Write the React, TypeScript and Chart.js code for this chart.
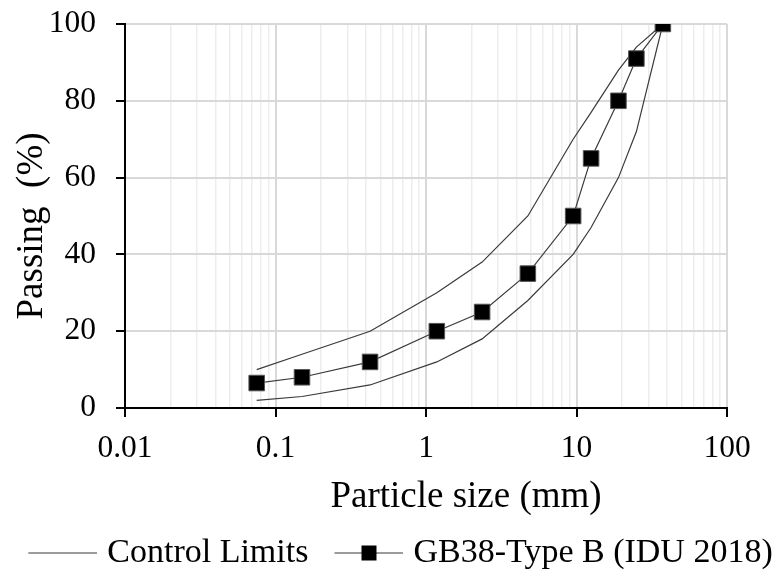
import React, { useEffect, useRef } from 'react';
import { Chart, registerables } from 'chart.js';

Chart.register(...registerables);

// ---- data ----
const SIEVE_SIZES_MM = [0.075, 0.15, 0.425, 1.18, 2.36, 4.75, 9.5, 12.5, 19, 25, 37.5];
const UPPER_LIMIT = [10, 14, 20, 30, 38, 50, 70, 77, 88, 94, 100];
const LOWER_LIMIT = [2, 3, 6, 12, 18, 28, 40, 47, 60, 72, 100];
const GB38_TYPE_B = [6.5, 8, 12, 20, 25, 35, 50, 65, 80, 91, 100];

const X_DECADES = [0.01, 0.1, 1, 10, 100];
const X_TICK_LABELS = ['0.01', '0.1', '1', '10', '100'];
const X_MINOR_STEPS = [1, 2, 3, 4, 5, 6, 7, 8, 9];
const Y_TICKS = [0, 20, 40, 60, 80, 100];

const LEGEND_LABELS = ['Control Limits', 'GB38-Type B (IDU 2018)'];
const X_TITLE = 'Particle size (mm)';
const Y_TITLE = 'Passing  (%)';

const FONT = "'Liberation Serif', 'Times New Roman', Times, serif";
const LINE_COLOR = '#3a3a3a';

export default function App() {
  const ref = useRef<HTMLCanvasElement>(null);

  useEffect(() => {
    const canvas = ref.current;
    if (!canvas) return;

    const toXY = (ys: number[]) => SIEVE_SIZES_MM.map((x, i) => ({ x, y: ys[i] }));

    const gridValues: number[] = [];
    for (let d = 0; d < X_DECADES.length - 1; d++) {
      for (const k of X_MINOR_STEPS) gridValues.push(Number((X_DECADES[d] * k).toPrecision(6)));
    }
    gridValues.push(X_DECADES[X_DECADES.length - 1]);

    const decadeIndex = (v: number) => X_DECADES.findIndex((d) => Math.abs(d - v) < d * 1e-6);
    const isDecade = (v: any) => typeof v === 'number' && decadeIndex(v) >= 0;

    const BOX = 88;
    const makeLegendImage = (withMarker: boolean) => {
      const W = BOX + 14;
      const H = 20;
      const L = 69;
      const c = document.createElement('canvas');
      c.width = W;
      c.height = H;
      const g = c.getContext('2d')!;
      g.strokeStyle = LINE_COLOR;
      g.lineWidth = 1.2;
      g.beginPath();
      g.moveTo(W - L, H / 2);
      g.lineTo(W, H / 2);
      g.stroke();
      if (withMarker) {
        const s = 15;
        g.fillStyle = '#000';
        g.fillRect(Math.round(W - L / 2 - s / 2), H / 2 - s / 2, s, s);
      }
      return c;
    };
    const legendImages = [makeLegendImage(false), makeLegendImage(true)];

    const axisTitles = {
      id: 'axisTitles',
      afterDraw(chart: any) {
        const { ctx, chartArea } = chart;
        ctx.save();
        ctx.fillStyle = '#000';
        ctx.font = `37px ${FONT}`;
        ctx.textAlign = 'center';
        ctx.textBaseline = 'alphabetic';
        ctx.fillText(X_TITLE, chartArea.left + 341, chartArea.bottom + 99);
        ctx.translate(chartArea.left - 83, chartArea.top + 202);
        ctx.rotate(-Math.PI / 2);
        ctx.fillText(Y_TITLE, 0, 0);
        ctx.restore();
      },
    };

    const chart = new Chart(canvas, {
      type: 'line',
      data: {
        datasets: [
          {
            label: LEGEND_LABELS[1],
            data: toXY(GB38_TYPE_B),
            borderColor: LINE_COLOR,
            borderWidth: 1.2,
            pointStyle: 'rect',
            pointRadius: 11,
            pointHoverRadius: 11,
            pointBackgroundColor: '#000',
            pointBorderColor: '#555',
            pointBorderWidth: 1,
            tension: 0,
            order: 0,
          },
          {
            label: LEGEND_LABELS[0],
            data: toXY(UPPER_LIMIT),
            borderColor: LINE_COLOR,
            borderWidth: 1.2,
            pointRadius: 0,
            tension: 0,
            order: 1,
          },
          {
            label: LEGEND_LABELS[0],
            data: toXY(LOWER_LIMIT),
            borderColor: LINE_COLOR,
            borderWidth: 1.2,
            pointRadius: 0,
            tension: 0,
            order: 1,
          },
        ],
      },
      options: {
        animation: false,
        responsive: false,
        devicePixelRatio: 1,
        layout: { padding: { top: 24, right: 0, bottom: 0, left: 0 } },
        plugins: {
          tooltip: { enabled: false },
          legend: {
            position: 'bottom',
            align: 'center',
            maxHeight: 36,
            labels: {
              usePointStyle: true,
              pointStyleWidth: BOX,
              padding: 0,
              color: '#000',
              font: { family: FONT, size: 34 },
              generateLabels: () =>
                LEGEND_LABELS.map((text, i) => ({
                  text,
                  pointStyle: legendImages[i],
                  fillStyle: '#000',
                  strokeStyle: '#000',
                  lineWidth: 0,
                  hidden: false,
                  datasetIndex: i === 0 ? 1 : 0,
                  fontColor: '#000',
                })),
            },
          },
        },
        scales: {
          x: {
            type: 'logarithmic',
            min: X_DECADES[0],
            max: X_DECADES[X_DECADES.length - 1],
            afterBuildTicks: (s: any) => {
              s.ticks = gridValues.map((value) => ({ value }));
            },
            afterFit: (s: any) => {
              s.height = 128;
              s.paddingRight = 48;
            },
            ticks: {
              autoSkip: false,
              maxRotation: 0,
              minRotation: 0,
              padding: 13,
              color: '#000',
              font: { family: FONT, size: 31.5 },
              callback: (v: any) => {
                const i = decadeIndex(Number(v));
                return i >= 0 ? X_TICK_LABELS[i] : '';
              },
            },
            grid: {
              color: (c: any) => (isDecade(c.tick?.value) ? '#d9d9d9' : '#ededed'),
              lineWidth: (c: any) => (isDecade(c.tick?.value) ? 2 : 1.5),
              tickColor: (c: any) => (isDecade(c.tick?.value) ? '#000' : 'rgba(0,0,0,0)'),
              tickLength: 9,
              tickWidth: 2,
            },
            border: { color: '#000', width: 2 },
            title: { display: false },
          },
          y: {
            type: 'linear',
            min: Y_TICKS[0],
            max: Y_TICKS[Y_TICKS.length - 1],
            afterBuildTicks: (s: any) => {
              s.ticks = Y_TICKS.map((value) => ({ value }));
            },
            afterFit: (s: any) => {
              s.width = 125;
              s.paddingTop = 0;
              s.paddingBottom = 0;
            },
            ticks: {
              padding: 20,
              color: '#000',
              font: { family: FONT, size: 31.5 },
            },
            grid: {
              color: '#d9d9d9',
              lineWidth: 2,
              tickColor: '#000',
              tickLength: 9,
              tickWidth: 2,
            },
            border: { color: '#000', width: 2 },
            title: { display: false },
          },
        },
      },
      plugins: [axisTitles],
    } as any);

    return () => chart.destroy();
  }, []);

  return (
    <div style={{ position: 'fixed', left: 0, top: 0, width: 775, height: 572, background: '#fff' }}>
      <canvas ref={ref} width={775} height={572} style={{ display: 'block', width: 775, height: 572 }} />
    </div>
  );
}
